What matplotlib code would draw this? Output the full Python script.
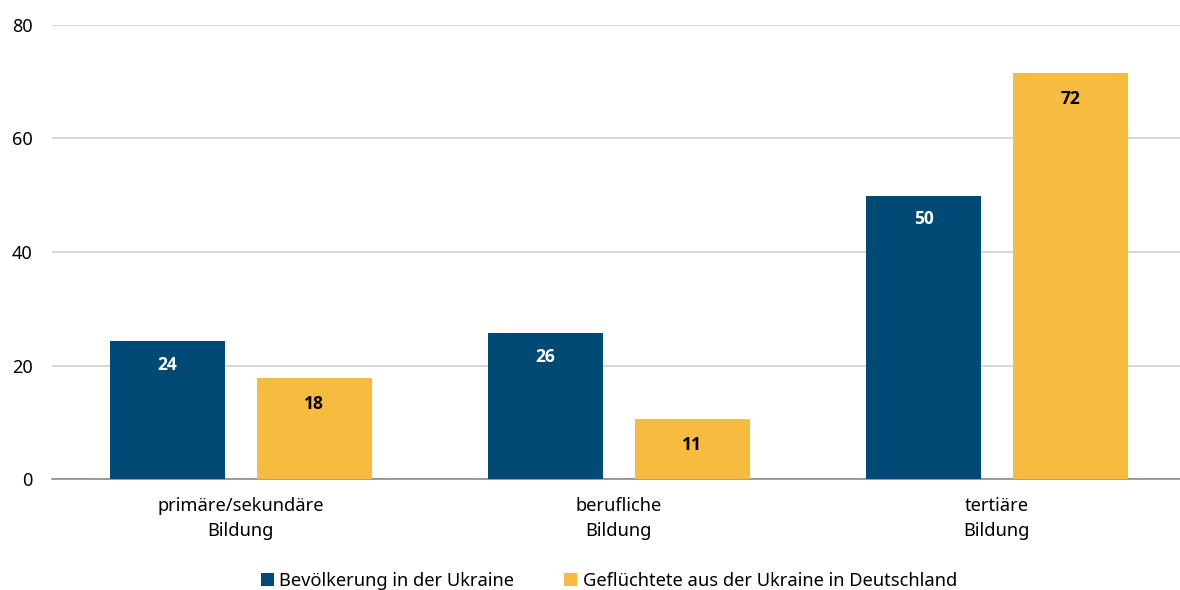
import numpy as np
import matplotlib.pyplot as plt

plt.rcParams['font.family'] = ['Noto Sans', 'DejaVu Sans']

# data
categories = ['primäre/sekundäre\nBildung', 'berufliche\nBildung', 'tertiäre\nBildung']
ukraine = [24.3, 25.7, 49.9]
refugees = [17.8, 10.6, 71.5]
series_names = ['Bevölkerung in der Ukraine',
                'Geflüchtete aus der Ukraine in Deutschland']
colors = ['#004a75', '#f6bb3f']

fig = plt.figure(figsize=(11.8, 5.9), dpi=100)
ax = fig.add_axes([0.044, 0.188, 0.961, 0.77])

x = np.arange(len(categories))
w = 0.305
off = 0.194

b1 = ax.bar(x - off, ukraine, w, color=colors[0], label=series_names[0], zorder=3)
b2 = ax.bar(x + off, refugees, w, color=colors[1], label=series_names[1], zorder=3)

# value labels inside the bars
lab_font = dict(family=['Open Sans', 'DejaVu Sans'], fontsize=12.5, fontweight='bold')
for rect, v in zip(b1, ukraine):
    ax.annotate(f'{v:.0f}', (rect.get_x() + rect.get_width() / 2, v),
                xytext=(0, -17), textcoords='offset points',
                ha='center', va='center', color='white', zorder=4, **lab_font)
for rect, v in zip(b2, refugees):
    ax.annotate(f'{v:.0f}', (rect.get_x() + rect.get_width() / 2, v),
                xytext=(0, -19), textcoords='offset points',
                ha='center', va='center', color='black', zorder=4, **lab_font)

ax.set_xlim(-0.5, 2.5)
ax.set_ylim(0, 80)
ax.set_yticks([0, 20, 40, 60, 80])
ax.set_xticks(x)
ax.set_xticklabels(categories, fontsize=13.2, linespacing=1.5)
ax.tick_params(axis='both', length=0)
ax.tick_params(axis='y', labelsize=13, pad=14)
ax.tick_params(axis='x', pad=13)

ax.grid(axis='y', color='#d0d0d0', linewidth=1.2, zorder=0)
for s in ['top', 'right', 'left']:
    ax.spines[s].set_visible(False)
ax.spines['bottom'].set_color('#8c8c8c')
ax.spines['bottom'].set_linewidth(1.2)

fig.legend(loc='lower center', bbox_to_anchor=(0.516, -0.028), ncol=2,
           frameon=False, fontsize=13.2, handlelength=0.7, handleheight=0.7,
           handletextpad=0.3, columnspacing=2.75)

fig.savefig('out.png', dpi=100)
